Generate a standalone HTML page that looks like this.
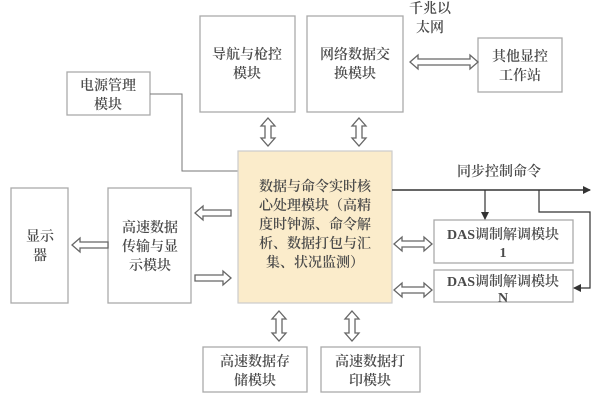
<!DOCTYPE html>
<html><head><meta charset="utf-8"><style>
body{margin:0;background:#fff}
svg{display:block}
text{font-family:"Liberation Serif","Noto Serif CJK SC",serif;fill:#4a4a4a;font-size:14px;text-anchor:middle;font-weight:600}
.b{fill:#fff;stroke:#aaa;stroke-width:1.3}
.a{fill:#fff;stroke:#666;stroke-width:1.3}
.l{fill:none;stroke:#777;stroke-width:1}
</style></head><body>
<svg width="616" height="400" viewBox="0 0 616 400">
<defs><marker id="m" markerWidth="8" markerHeight="8" refX="7" refY="4" orient="auto" markerUnits="userSpaceOnUse"><path d="M0,0 L8,4 L0,8z" fill="#333"/></marker></defs>
<rect class="b" x="200" y="16" width="95" height="96"/>
<text x="247" y="59">导航与枪控</text><text x="247" y="78">模块</text>
<rect class="b" x="307" y="16" width="96" height="96"/>
<text x="355" y="59">网络数据交</text><text x="355" y="78">换模块</text>
<rect class="b" x="478" y="38" width="84" height="54"/>
<text x="520" y="61">其他显控</text><text x="520" y="80">工作站</text>
<text x="430" y="13">千兆以</text><text x="430" y="32">太网</text>
<rect class="b" x="67" y="72" width="83" height="43"/>
<text x="108" y="90">电源管理</text><text x="108" y="109">模块</text>
<polyline class="l" points="150,94 182,94 182,171 238,171"/>
<rect x="238" y="151" width="154" height="152" fill="#fbeccb" stroke="#ccc" stroke-width="1.2"/>
<text x="315" y="191">数据与命令实时核</text>
<text x="315" y="210">心处理模块（高精</text>
<text x="315" y="229">度时钟源、命令解</text>
<text x="315" y="248">析、数据打包与汇</text>
<text x="315" y="267">集、状况监测）</text>
<rect class="b" x="11" y="188" width="57" height="115"/>
<text x="40" y="241">显示</text><text x="40" y="260">器</text>
<rect class="b" x="108" y="188" width="83" height="115"/>
<text x="150" y="232">高速数据</text><text x="150" y="251">传输与显</text><text x="150" y="270">示模块</text>
<rect class="b" x="434" y="220" width="139" height="43"/>
<text x="503" y="239">DAS调制解调模块</text><text x="503" y="257">1</text>
<rect class="b" x="434" y="270" width="139" height="32"/>
<text x="503" y="286">DAS调制解调模块</text><text x="503" y="302">N</text>
<rect class="b" x="203" y="347" width="104" height="45"/>
<text x="255" y="366">高速数据存</text><text x="255" y="385">储模块</text>
<rect class="b" x="321" y="347" width="99" height="45"/>
<text x="370" y="366">高速数据打</text><text x="370" y="385">印模块</text>
<text x="499" y="176">同步控制命令</text>
<line x1="392" y1="190" x2="590" y2="190" stroke="#333" stroke-width="1.5" marker-end="url(#m)"/>
<line x1="485" y1="190" x2="485" y2="219" stroke="#333" stroke-width="1.2" marker-end="url(#m)"/>
<polyline points="539,190 539,212 590,212 590,288 574,288" fill="none" stroke="#333" stroke-width="1.2" marker-end="url(#m)"/>
<polygon class="a" points="410,62 418,55 418,59 470,59 470,55 478,62 470,69 470,65 418,65 418,69"/>
<polygon class="a" points="268,118 275,126 271,126 271,138 275,138 268,146 261,138 265,138 265,126 261,126"/>
<polygon class="a" points="359,118 366,126 362,126 362,138 366,138 359,146 352,138 356,138 356,126 352,126"/>
<polygon class="a" points="279,311 286,319 282,319 282,333 286,333 279,341 272,333 276,333 276,319 272,319"/>
<polygon class="a" points="352,311 359,319 355,319 355,333 359,333 352,341 345,333 349,333 349,319 345,319"/>
<polygon class="a" points="394,244 402,237 402,241 424,241 424,237 432,244 424,251 424,247 402,247 402,251"/>
<polygon class="a" points="394,290 402,283 402,287 424,287 424,283 432,290 424,297 424,293 402,293 402,297"/>
<polygon class="a" points="195,213 203,206 203,210 231,210 231,216 203,216 203,220"/>
<polygon class="a" points="231,278 223,271 223,275 195,275 195,281 223,281 223,285"/>
<polygon class="a" points="72,245 80,238 80,242 108,242 108,248 80,248 80,252"/>
</svg>
</body></html>
